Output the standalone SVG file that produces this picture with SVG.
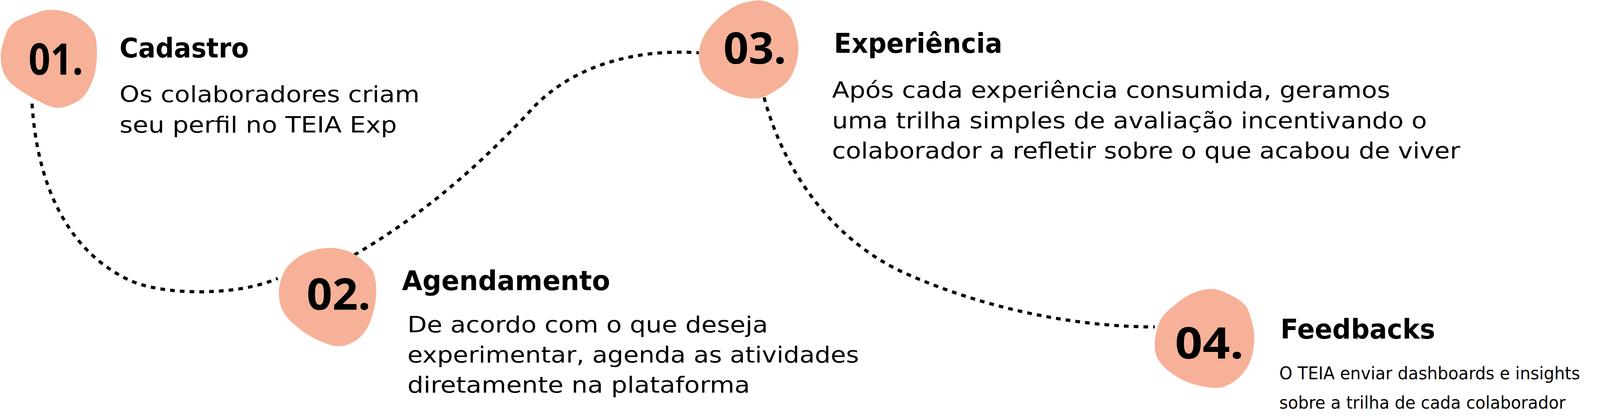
<svg xmlns="http://www.w3.org/2000/svg" width="4437" height="1069" viewBox="0 0 4437 1069">
  <style>
    .bg { fill: #ffffff; }
    .blob { fill: #F7B198; }
    .num { font-family: "Open Sans", "DejaVu Sans", sans-serif; font-weight: 700; font-size: 111px; fill: #000; }
    .title { font-family: "DejaVu Sans", "Noto Sans", sans-serif; font-weight: 700; font-size: 69px; fill: #000; }
    .body { font-family: "DejaVu Sans", "Noto Sans", sans-serif; font-weight: 400; font-size: 57px; fill: #000; }
    .body-sm { font-family: "DejaVu Sans", "Noto Sans", sans-serif; font-weight: 400; font-size: 44px; fill: #000; }
    .conn { fill: none; stroke: #000; stroke-width: 8; stroke-dasharray: 12 13; }
  </style>
  <rect class="bg" x="0" y="0" width="4437" height="1069"/>

  <g id="connectors">
    <path class="conn" d="M82,265 C95,470 170,640 330,716 C410,754 600,760 711,712"/>
    <path class="conn" d="M907,652 C1100,540 1250,400 1370,270 C1480,160 1640,125 1789,135"/>
    <path class="conn" d="M1956,249 C2010,450 2140,620 2320,700 C2518,788 2750,836 2956,836"/>
  </g>

  <g id="step-01">
    <path class="blob" d="M127,25 C111.3,25.7 98.7,31.2 83,37 C67.3,42.8 44.7,50.7 33,60 C21.3,69.3 18.2,79.2 13,93 C7.8,106.8 2.5,127.3 2,143 C1.5,158.7 4.8,174.7 10,187 C15.2,199.3 20.8,206.5 33,217 C45.2,227.5 65.2,240.3 83,250 C100.8,259.7 123.3,272.2 140,275 C156.7,277.8 170.2,272.3 183,267 C195.8,261.7 207.5,254.7 217,243 C226.5,231.3 234.8,213.7 240,197 C245.2,180.3 247.5,160.8 248,143 C248.5,125.2 248.2,104.3 243,90 C237.8,75.7 228,66.5 217,57 C206,47.5 192,38.3 177,33 C162,27.7 142.7,24.3 127,25 Z"/>
    <text class="num" x="73" y="191" textLength="140" lengthAdjust="spacingAndGlyphs">01.</text>
    <text class="title" x="306" y="147" textLength="331" lengthAdjust="spacingAndGlyphs">Cadastro</text>
    <text class="body" x="306" y="261" textLength="768" lengthAdjust="spacingAndGlyphs">Os colaboradores criam</text>
    <text class="body" x="306" y="339" textLength="710" lengthAdjust="spacingAndGlyphs">seu perfil no TEIA Exp</text>
  </g>

  <g id="step-02">
    <path class="blob" d="M840,634 C821.7,634.7 799.7,639.8 783,647 C766.3,654.2 750.5,666 740,677 C729.5,688 724.3,700.3 720,713 C715.7,725.7 713.5,739.7 714,753 C714.5,766.3 717,780.7 723,793 C729,805.3 737.2,815.3 750,827 C762.8,838.7 781.7,853.3 800,863 C818.3,872.7 843.3,882.7 860,885 C876.7,887.3 887.8,882.8 900,877 C912.2,871.2 924.2,861.7 933,850 C941.8,838.3 948,823.2 953,807 C958,790.8 962.3,770.8 963,753 C963.7,735.2 962,713.8 957,700 C952,686.2 943.7,679.5 933,670 C922.3,660.5 908.5,649 893,643 C877.5,637 858.3,633.3 840,634 Z"/>
    <text class="num" x="785" y="792" textLength="164" lengthAdjust="spacingAndGlyphs">02.</text>
    <text class="title" x="1029" y="742" textLength="533" lengthAdjust="spacingAndGlyphs">Agendamento</text>
    <text class="body" x="1043" y="850" textLength="923" lengthAdjust="spacingAndGlyphs">De acordo com o que deseja</text>
    <text class="body" x="1043" y="927" textLength="1156" lengthAdjust="spacingAndGlyphs">experimentar, agenda as atividades</text>
    <text class="body" x="1043" y="1004" textLength="877" lengthAdjust="spacingAndGlyphs">diretamente na plataforma</text>
  </g>

  <g id="step-03">
    <path class="blob" d="M1930,2 C1918.8,3.5 1903.3,6.2 1890,12 C1876.7,17.8 1862.2,27.3 1850,37 C1837.8,46.7 1825.8,59 1817,70 C1808.2,81 1801.7,91.3 1797,103 C1792.3,114.7 1789,127.2 1789,140 C1789,152.8 1792.3,168.8 1797,180 C1801.7,191.2 1808.2,198.7 1817,207 C1825.8,215.3 1837.3,223.3 1850,230 C1862.7,236.7 1877.5,243.5 1893,247 C1908.5,250.5 1928,253.3 1943,251 C1958,248.7 1970.7,240.3 1983,233 C1995.3,225.7 2008,218 2017,207 C2026,196 2032.5,181 2037,167 C2041.5,153 2044,137.5 2044,123 C2044,108.5 2040.5,93.3 2037,80 C2033.5,66.7 2030.8,53.5 2023,43 C2015.2,32.5 2001,23.7 1990,17 C1979,10.3 1967,5.5 1957,3 C1947,0.5 1941.2,0.5 1930,2 Z"/>
    <text class="num" x="1852" y="163" textLength="161" lengthAdjust="spacingAndGlyphs">03.</text>
    <text class="title" x="2135" y="135" textLength="431" lengthAdjust="spacingAndGlyphs">Experiência</text>
    <text class="body" x="2130" y="250" textLength="1429" lengthAdjust="spacingAndGlyphs">Após cada experiência consumida, geramos</text>
    <text class="body" x="2130" y="328" textLength="1523" lengthAdjust="spacingAndGlyphs">uma trilha simples de avaliação incentivando o</text>
    <text class="body" x="2130" y="405" textLength="1608" lengthAdjust="spacingAndGlyphs">colaborador a refletir sobre o que acabou de viver</text>
  </g>

  <g id="step-04">
    <path class="blob" d="M3103,739 C3087.3,738.5 3069,743.2 3053,750 C3037,756.8 3020.8,768.3 3007,780 C2993.2,791.7 2978.5,803.3 2970,820 C2961.5,836.7 2956.5,862.8 2956,880 C2955.5,897.2 2958.5,909.7 2967,923 C2975.5,936.3 2992,950 3007,960 C3022,970 3039.3,977.7 3057,983 C3074.7,988.3 3098,992 3113,992 C3128,992 3135.8,988.8 3147,983 C3158.2,977.2 3170.7,968 3180,957 C3189.3,946 3197.8,932.7 3203,917 C3208.2,901.3 3211,879.7 3211,863 C3211,846.3 3207,830.8 3203,817 C3199,803.2 3196.3,790.7 3187,780 C3177.7,769.3 3161,759.8 3147,753 C3133,746.2 3118.7,739.5 3103,739 Z"/>
    <text class="num" x="3008" y="917" textLength="176" lengthAdjust="spacingAndGlyphs">04.</text>
    <text class="title" x="3278" y="866" textLength="396" lengthAdjust="spacingAndGlyphs">Feedbacks</text>
    <text class="body-sm" x="3275" y="970" textLength="770" lengthAdjust="spacingAndGlyphs">O TEIA enviar dashboards e insights</text>
    <text class="body-sm" x="3275" y="1045" textLength="733" lengthAdjust="spacingAndGlyphs">sobre a trilha de cada colaborador</text>
  </g>
</svg>
